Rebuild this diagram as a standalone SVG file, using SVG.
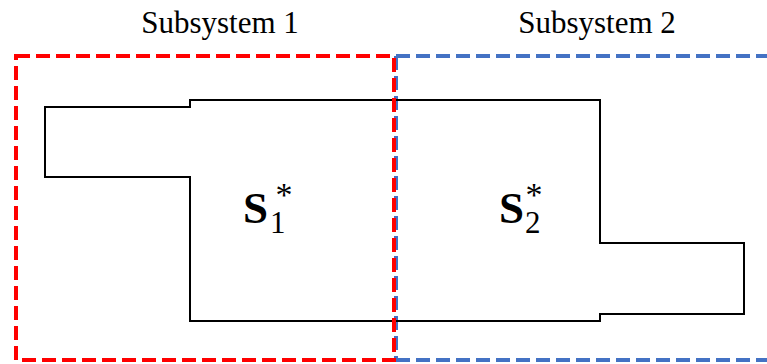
<svg xmlns="http://www.w3.org/2000/svg" width="767" height="364" viewBox="0 0 767 364">
<style>
.lbl{font-family:"Liberation Serif",serif;font-size:31px;fill:#000}
.math{font-family:"Liberation Serif",serif;fill:#000}
.sym{font-weight:bold;font-size:45px}
.sub{font-size:31px}
.ast{font-size:34px}
.shape{fill:none;stroke:#000;stroke-width:2}
.red{fill:none;stroke:#ff0000;stroke-width:4;stroke-dasharray:14 6}
.blue{fill:none;stroke:#4472c4;stroke-width:4;stroke-dasharray:14 6}
</style>
<rect width="767" height="364" fill="#fff"/>
<g id="subsystem2">
<path class="blue" d="M396,56 H767 M396,360 H767 M396,56 V360"/>
</g>
<g id="shape">
<path class="shape" d="M45,107 H190 V100 H600 V243 H744 V314 H600 V321 H190 V177 H45 Z"/>
</g>
<g id="subsystem1">
<rect class="red" x="16" y="56" width="378" height="304"/>
</g>
<g id="labels">
<text class="lbl" x="220" y="33" text-anchor="middle">Subsystem 1</text>
<text class="lbl" x="597" y="33" text-anchor="middle">Subsystem 2</text>
</g>
<g id="s1">
<text class="math" x="243" y="223"><tspan class="sym">S</tspan><tspan class="sub" dx="2" dy="10">1</tspan><tspan class="ast" dx="-10" dy="-27">*</tspan></text>
</g>
<g id="s2">
<text class="math" x="499" y="223"><tspan class="sym">S</tspan><tspan class="sub" dx="1" dy="10">2</tspan><tspan class="ast" dx="-15" dy="-27">*</tspan></text>
</g>
</svg>
